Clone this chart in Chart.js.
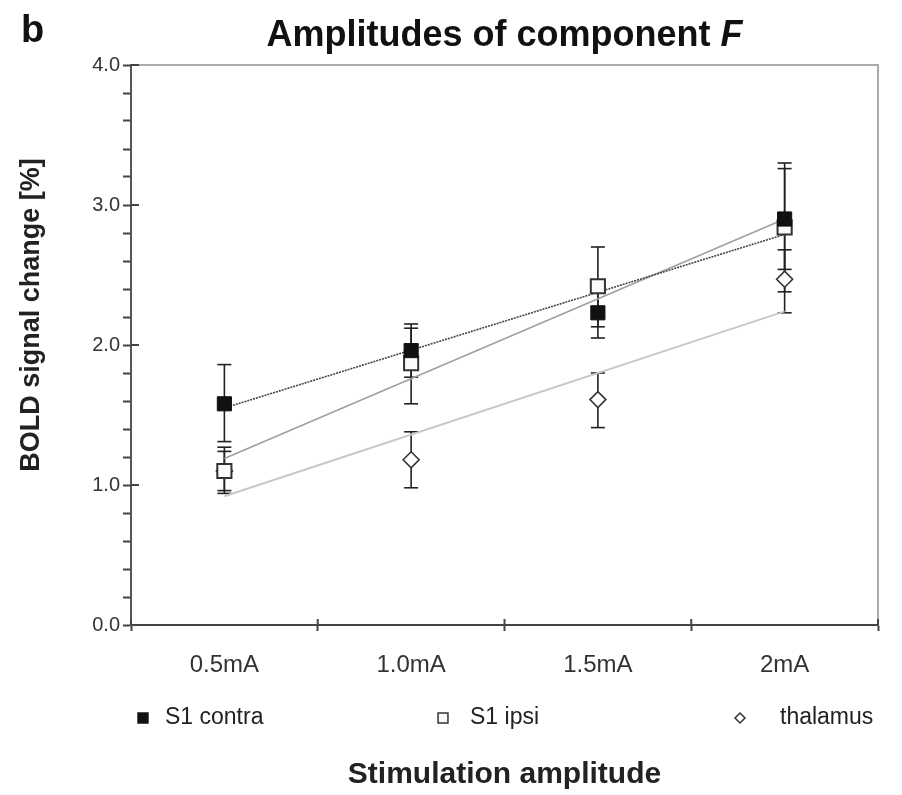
<!DOCTYPE html>
<html>
<head>
<meta charset="utf-8">
<script src="https://cdn.jsdelivr.net/npm/chart.js@4.4.1/dist/chart.umd.min.js"></script>
<style>
  html, body { margin: 0; padding: 0; background: #fff; }
</style>
</head>
<body>
<canvas id="chart" width="902" height="795"></canvas>
<script>
const categories = ['0.5mA', '1.0mA', '1.5mA', '2mA'];
const yTicks = [0, 1, 2, 3, 4];

const contra = [1.58, 1.96, 2.23, 2.90];
const contraLo = [1.31, 1.77, 2.05, 2.54];
const contraHi = [1.86, 2.15, 2.40, 3.26];

const ipsi = [1.10, 1.87, 2.42, 2.84];
const ipsiLo = [0.94, 1.58, 2.13, 2.38];
const ipsiHi = [1.27, 2.12, 2.70, 3.30];

const thalamus = [1.10, 1.18, 1.61, 2.47];
const thalamusLo = [0.96, 0.98, 1.41, 2.23];
const thalamusHi = [1.24, 1.38, 1.80, 2.68];

// trend lines: only the two ends
const contraTrend = [1.55, null, null, 2.79];
const ipsiTrend = [1.19, null, null, 2.90];
const thalamusTrend = [0.92, null, null, 2.24];

const fam = '"Liberation Sans", Arial, sans-serif';

function line(ctx, x1, y1, x2, y2) {
    ctx.beginPath();
    ctx.moveTo(x1, y1);
    ctx.lineTo(x2, y2);
    ctx.stroke();
}

// frame, inner tick parts and error bars
const extras = {
    id: 'extras',
    beforeDatasetsDraw(chart) {
        const { ctx, chartArea: a, scales: { x, y } } = chart;
        ctx.save();
        ctx.strokeStyle = '#aaa';
        ctx.lineWidth = 2;
        ctx.beginPath();
        ctx.moveTo(a.left, a.top);
        ctx.lineTo(a.right, a.top);
        ctx.lineTo(a.right, a.bottom);
        ctx.stroke();

        ctx.strokeStyle = '#444';
        yTicks.forEach(v => {
            const py = y.getPixelForValue(v);
            line(ctx, a.left, py, a.left + 8, py);
        });
        for (let i = 0; i <= categories.length; i++) {
            const px = x.getPixelForValue(i - 0.5);
            line(ctx, px, a.bottom, px, a.bottom - 6);
        }

        ctx.strokeStyle = '#222';
        ctx.lineWidth = 1.6;
        chart.data.datasets.forEach(ds => {
            if (!ds.errLo) return;
            ds.data.forEach((v, i) => {
                const px = x.getPixelForValue(i);
                const lo = y.getPixelForValue(ds.errLo[i]);
                const hi = y.getPixelForValue(ds.errHi[i]);
                line(ctx, px, lo, px, hi);
                line(ctx, px - 7, lo, px + 7, lo);
                line(ctx, px - 7, hi, px + 7, hi);
            });
        });
        ctx.restore();
    }
};

// title, panel letter, y title and legend row
const texts = {
    id: 'texts',
    afterDraw(chart) {
        const { ctx, chartArea: a } = chart;
        ctx.save();
        ctx.fillStyle = '#111';
        ctx.textBaseline = 'alphabetic';
        ctx.textAlign = 'left';
        ctx.font = 'bold 38px ' + fam;
        ctx.fillText('b', 21, 42);

        const t1 = 'Amplitudes of component ';
        const t2 = 'F';
        ctx.font = 'bold 36px ' + fam;
        const w1 = ctx.measureText(t1).width;
        ctx.font = 'italic bold 36px ' + fam;
        const w2 = ctx.measureText(t2).width;
        const cx = (a.left + a.right) / 2 - (w1 + w2) / 2;
        ctx.font = 'bold 36px ' + fam;
        ctx.fillText(t1, cx, 46);
        ctx.font = 'italic bold 36px ' + fam;
        ctx.fillText(t2, cx + w1, 46);

        // y axis title
        ctx.save();
        ctx.translate(32, 315);
        ctx.rotate(-Math.PI / 2);
        ctx.textAlign = 'center';
        ctx.textBaseline = 'middle';
        ctx.font = 'bold 27px ' + fam;
        ctx.fillStyle = '#222';
        ctx.fillText('BOLD signal change [%]', 0, 0);
        ctx.restore();

        // legend
        const items = [
            { ds: 0, mx: a.left + 12, tx: a.left + 34 },
            { ds: 1, mx: a.left + 312, tx: a.left + 339 },
            { ds: 2, mx: a.left + 609, tx: a.left + 649 }
        ];
        const ly = 718;
        ctx.font = '23px ' + fam;
        ctx.textBaseline = 'middle';
        items.forEach(it => {
            const ds = chart.data.datasets[it.ds];
            ctx.fillStyle = ds.backgroundColor;
            ctx.strokeStyle = ds.borderColor;
            ctx.lineWidth = 1.5;
            Chart.helpers.drawPoint(ctx, {
                pointStyle: ds.pointStyle,
                radius: ds.pointStyle === 'rectRot' ? 5 : 7,
                borderWidth: 1.5
            }, it.mx, ly);
            ctx.fillStyle = '#222';
            ctx.fillText(ds.label, it.tx, ly);
        });
        ctx.restore();
    }
};

new Chart(document.getElementById('chart'), {
    type: 'line',
    data: {
        labels: categories,
        datasets: [
            { label: 'S1 contra', data: contra, errLo: contraLo, errHi: contraHi, showLine: false,
              pointStyle: 'rect', pointRadius: 10, backgroundColor: '#111', borderColor: '#111', borderWidth: 1, order: 0 },
            { label: 'S1 ipsi', data: ipsi, errLo: ipsiLo, errHi: ipsiHi, showLine: false,
              pointStyle: 'rect', pointRadius: 10, backgroundColor: '#fafafa', borderColor: '#333', borderWidth: 2, order: 0 },
            { label: 'thalamus', data: thalamus, errLo: thalamusLo, errHi: thalamusHi, showLine: false,
              pointStyle: 'rectRot', pointRadius: 8, backgroundColor: '#fff', borderColor: '#333', borderWidth: 1.6, order: 0 },
            { label: 'contra trend', data: contraTrend, spanGaps: true, pointRadius: 0,
              borderColor: '#444', borderWidth: 1.6, borderDash: [2, 1], order: 1 },
            { label: 'ipsi trend', data: ipsiTrend, spanGaps: true, pointRadius: 0,
              borderColor: '#a0a0a0', borderWidth: 1.6, order: 1 },
            { label: 'thalamus trend', data: thalamusTrend, spanGaps: true, pointRadius: 0,
              borderColor: '#c8c8c8', borderWidth: 2, order: 1 }
        ]
    },
    options: {
        responsive: false,
        animation: false,
        layout: { padding: { top: 65, right: 24, left: 0, bottom: 0 } },
        plugins: {
            legend: { display: false },
            tooltip: { enabled: false }
        },
        scales: {
            x: {
                offset: true,
                grid: { offset: true, drawOnChartArea: false, tickLength: 6, tickColor: '#444', tickWidth: 2 },
                border: { color: '#444', width: 2 },
                ticks: { font: { family: fam, size: 24 }, color: '#333', padding: 20 },
                title: { display: true, text: 'Stimulation amplitude', color: '#222',
                         font: { family: fam, size: 30, weight: 'bold' }, padding: { top: 0, bottom: 2 } },
                afterFit: s => { s.height = 170; }
            },
            y: {
                min: 0,
                max: 4,
                ticks: {
                    stepSize: 0.2,
                    autoSkip: false,
                    font: { family: fam, size: 20 },
                    color: '#333',
                    padding: 3,
                    callback: v => yTicks.some(t => Math.abs(t - v) < 1e-6) ? v.toFixed(1) : ''
                },
                grid: { drawOnChartArea: false, tickLength: 8, tickColor: '#444', tickWidth: 2 },
                border: { color: '#555', width: 2 },
                afterFit: s => { s.width = 131; }
            }
        }
    },
    plugins: [extras, texts]
});
</script>
</body>
</html>
